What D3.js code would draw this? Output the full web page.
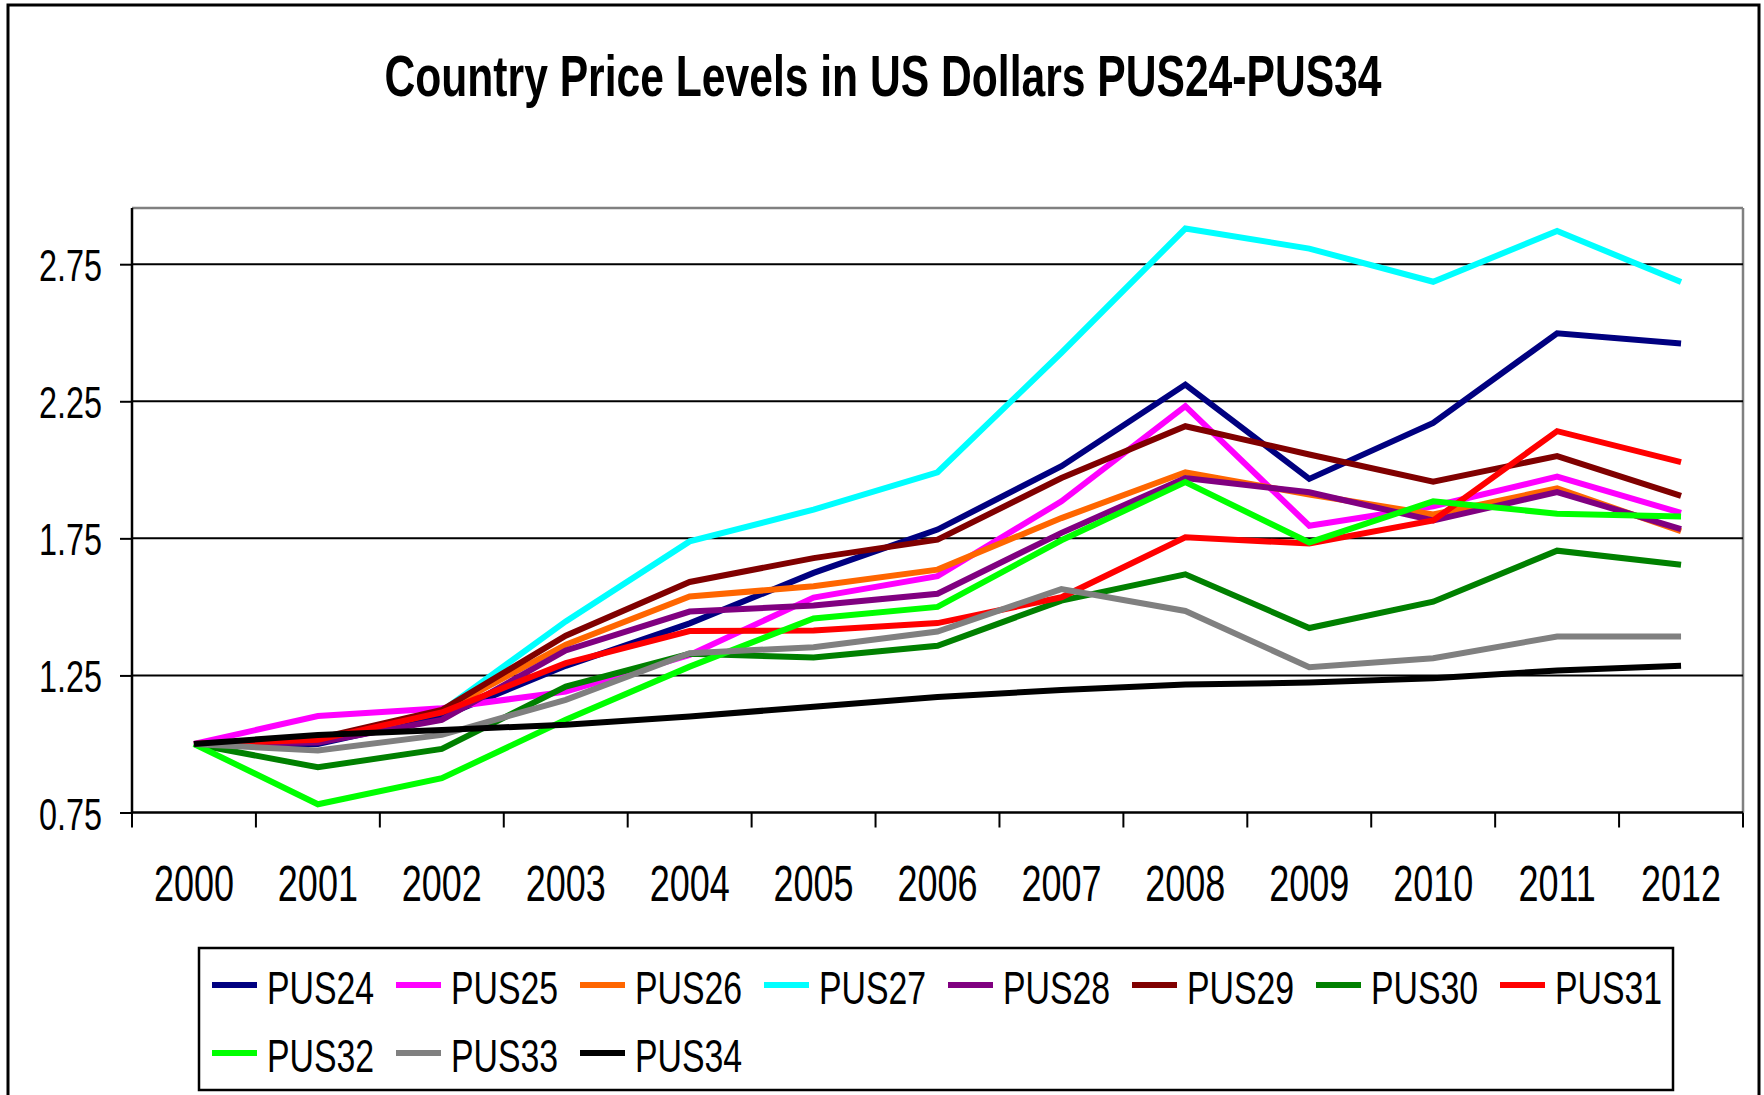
<!DOCTYPE html>
<html>
<head>
<meta charset="utf-8">
<script src="https://cdn.jsdelivr.net/npm/d3@7"></script>
<style>
  html, body { margin: 0; padding: 0; background: #fff; }
  svg { display: block; font-family: "Liberation Sans", Arial, sans-serif; }
</style>
</head>
<body>
<svg id="chart" width="1764" height="1095"></svg>
<script>
const years = ["2000","2001","2002","2003","2004","2005","2006","2007","2008","2009","2010","2011","2012"];
const seriesNames = ["PUS24","PUS25","PUS26","PUS27","PUS28","PUS29","PUS30","PUS31","PUS32","PUS33","PUS34"];
const seriesColors = ["#000080","#FF00FF","#FF6600","#00FFFF","#800080","#800000","#008000","#FF0000","#00FF00","#808080","#000000"];
const yTicks = [0.75, 1.25, 1.75, 2.25, 2.75];

const PUS24 = [1.0, 1.0, 1.10, 1.285, 1.44, 1.624, 1.782, 2.013, 2.311, 1.967, 2.171, 2.498, 2.461];
const PUS25 = [1.0, 1.102, 1.13, 1.191, 1.325, 1.534, 1.612, 1.885, 2.232, 1.796, 1.867, 1.975, 1.843];
const PUS26 = [1.0, 1.01, 1.12, 1.362, 1.538, 1.575, 1.636, 1.824, 1.991, 1.910, 1.837, 1.932, 1.776];
const PUS27 = [1.0, 1.01, 1.12, 1.447, 1.739, 1.855, 1.991, 2.427, 2.880, 2.807, 2.686, 2.871, 2.685];
const PUS28 = [1.0, 1.005, 1.088, 1.341, 1.483, 1.505, 1.548, 1.770, 1.970, 1.918, 1.815, 1.919, 1.784];
const PUS29 = [1.0, 1.02, 1.124, 1.395, 1.591, 1.678, 1.745, 1.970, 2.159, 2.056, 1.957, 2.050, 1.905];
const PUS30 = [1.0, 0.915, 0.982, 1.209, 1.329, 1.315, 1.358, 1.523, 1.619, 1.423, 1.519, 1.705, 1.654];
const PUS31 = [1.0, 1.015, 1.115, 1.295, 1.412, 1.414, 1.441, 1.535, 1.754, 1.731, 1.815, 2.141, 2.028];
const PUS32 = [1.0, 0.78, 0.875, 1.088, 1.282, 1.458, 1.500, 1.743, 1.955, 1.735, 1.885, 1.840, 1.830];
const PUS33 = [1.0, 0.976, 1.033, 1.161, 1.331, 1.353, 1.410, 1.565, 1.485, 1.280, 1.313, 1.392, 1.392];
const PUS34 = [1.0, 1.033, 1.051, 1.070, 1.100, 1.136, 1.171, 1.197, 1.217, 1.224, 1.240, 1.268, 1.285];

const seriesValues = [PUS24, PUS25, PUS26, PUS27, PUS28, PUS29, PUS30, PUS31, PUS32, PUS33, PUS34];

const svg = d3.select("#chart");
const SX = 0.72; // horizontal condensing of the original text

function txt(g, x, y, s, size, anchor, weight, sx) {
  return g.append("text")
    .attr("transform", `translate(${x},${y}) scale(${sx || SX},1)`)
    .attr("text-anchor", anchor || "start")
    .attr("font-size", size)
    .attr("font-weight", weight || "normal")
    .attr("fill", "#000")
    .text(s);
}

// Outer chart border
svg.append("rect").attr("x", 8).attr("y", 5).attr("width", 1751).attr("height", 1100)
  .attr("fill", "#fff").attr("stroke", "#000").attr("stroke-width", 3);

// Title
txt(svg, 883, 96, "Country Price Levels in US Dollars PUS24-PUS34", 58, "middle", "bold", 0.735);

const plotL = 132, plotR = 1743, plotT = 208, plotB = 812.5;
const x = d3.scaleBand().domain(years).range([plotL, plotR]).paddingInner(0).paddingOuter(0);
const y = d3.scaleLinear().domain([0.75, 2.955]).range([plotB, plotT]);

// plot area border (grey top/right)
svg.append("line").attr("x1", plotL).attr("x2", plotR).attr("y1", plotT).attr("y2", plotT)
  .attr("stroke", "#808080").attr("stroke-width", 2.5);
svg.append("line").attr("x1", plotR).attr("x2", plotR).attr("y1", plotT).attr("y2", plotB)
  .attr("stroke", "#808080").attr("stroke-width", 2.5);

// gridlines
svg.append("g").selectAll("line").data(yTicks.slice(1)).join("line")
  .attr("x1", plotL).attr("x2", plotR)
  .attr("y1", d => y(d)).attr("y2", d => y(d))
  .attr("stroke", "#000").attr("stroke-width", 2);

// y axis
const yAxis = d3.axisLeft(y).tickValues(yTicks).tickSize(12).tickFormat("");
const gy = svg.append("g").attr("transform", `translate(${plotL},0)`).call(yAxis);
gy.select(".domain").attr("stroke", "#000").attr("stroke-width", 2.5).attr("d", `M0,${plotT}V${plotB}`);
gy.selectAll(".tick line").attr("stroke", "#000").attr("stroke-width", 2);
yTicks.forEach(v => txt(svg, 102, y(v) + 17, d3.format(".2f")(v), 45, "end"));

// x axis
svg.append("line").attr("x1", plotL).attr("x2", plotR).attr("y1", plotB).attr("y2", plotB)
  .attr("stroke", "#000").attr("stroke-width", 2.5);
const bounds = d3.range(years.length + 1).map(i => plotL + i * x.step());
svg.append("g").selectAll("line").data(bounds).join("line")
  .attr("x1", d => d).attr("x2", d => d).attr("y1", plotB).attr("y2", plotB + 15)
  .attr("stroke", "#000").attr("stroke-width", 2);
years.forEach(yr => txt(svg, x(yr) + x.bandwidth() / 2, 901, yr, 50, "middle"));

// lines
const line = d3.line()
  .x((d, i) => x(years[i]) + x.bandwidth() / 2)
  .y(d => y(d));
const gLines = svg.append("g");
seriesValues.forEach((vals, k) => {
  gLines.append("path").datum(vals)
    .attr("d", line)
    .attr("fill", "none")
    .attr("stroke", seriesColors[k])
    .attr("stroke-width", 6)
    .attr("stroke-linejoin", "miter")
    .attr("stroke-linecap", "butt");
});

// legend
const lg = svg.append("g");
lg.append("rect").attr("x", 199).attr("y", 948).attr("width", 1474).attr("height", 142)
  .attr("fill", "#fff").attr("stroke", "#000").attr("stroke-width", 2.5);
const perRow = 8, itemW = 184, legX0 = 212, rowY = [985, 1053];
seriesNames.forEach((name, i) => {
  const r = Math.floor(i / perRow), c = i % perRow;
  const lx = legX0 + c * itemW, ly = rowY[r];
  lg.append("line").attr("x1", lx).attr("x2", lx + 45).attr("y1", ly).attr("y2", ly)
    .attr("stroke", seriesColors[i]).attr("stroke-width", 6);
  txt(lg, lx + 55, ly + 19, name, 47, "start");
});
</script>
</body>
</html>
